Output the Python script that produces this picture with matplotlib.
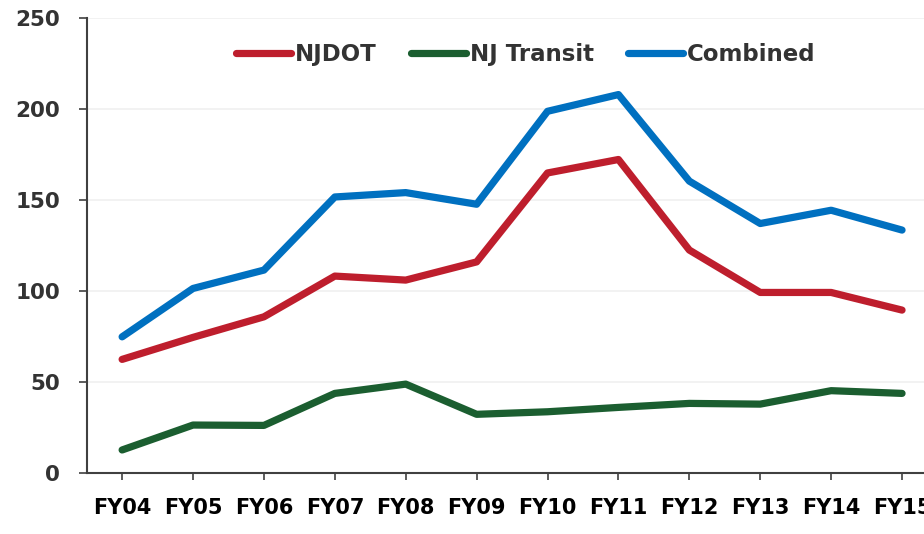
import numpy as np
import matplotlib
matplotlib.use('Agg')
import matplotlib.pyplot as plt

# Дані з графіка
years = ['FY04', 'FY05', 'FY06', 'FY07', 'FY08', 'FY09',
         'FY10', 'FY11', 'FY12', 'FY13', 'FY14', 'FY15']
njdot = [62.3, 74.4, 85.7, 108.1, 105.9, 115.9, 164.8, 172.2, 122.4, 99.1, 99.1, 89.4]
nj_transit = [12.5, 26.2, 26.0, 43.6, 48.7, 32.1, 33.5, 35.9, 38.1, 37.7, 45.1, 43.6]
combined = [74.7, 101.3, 111.4, 151.6, 154.0, 147.6, 198.7, 207.9, 160.3, 137.0, 144.3, 133.4]
y_ticks = [0, 50, 100, 150, 200, 250]

plt.rcParams['font.family'] = ['DejaVu Sans']
plt.rcParams['font.weight'] = 'bold'

fig = plt.figure(figsize=(9.24, 5.34), dpi=100)
ax = fig.add_axes([0.0938, 0.1148, 0.9208, 0.8515])

x = np.arange(len(years))
lw = 5.2
ax.plot(x, njdot, color='#BE1E2D', lw=lw, solid_capstyle='round', solid_joinstyle='round', label='NJDOT')
ax.plot(x, nj_transit, color='#1B5E30', lw=lw, solid_capstyle='round', solid_joinstyle='round', label='NJ Transit')
ax.plot(x, combined, color='#0070C0', lw=lw, solid_capstyle='round', solid_joinstyle='round', label='Combined')

ax.set_xlim(-0.5, len(years) - 0.5)
ax.set_ylim(0, 250)
ax.set_yticks(y_ticks)
ax.set_xticks(x)
ax.set_xticklabels(years)

ax.grid(axis='y', color='#F0F0F0', lw=1.2)
ax.set_axisbelow(True)

for s in ['top', 'right']:
    ax.spines[s].set_visible(False)
for s in ['left', 'bottom']:
    ax.spines[s].set_color('#404040')
    ax.spines[s].set_linewidth(1.5)

ax.tick_params(axis='y', length=6, width=1.2, color='#404040', pad=13,
               labelsize=15.5, labelcolor='#333333')
ax.tick_params(axis='x', length=5, width=1.2, color='#404040', pad=13,
               labelsize=15, labelcolor='#000000')

# легенда зверху по центру
leg = ax.legend(loc='upper center', bbox_to_anchor=(0.516, 0.99), ncol=3, frameon=False,
                handlelength=2.4, handletextpad=0.17, columnspacing=1.5,
                prop={'size': 16.5, 'weight': 'bold'})
for t in leg.get_texts():
    t.set_color('#333333')
for h in leg.legend_handles:
    h.set_solid_capstyle('round')

fig.savefig('out.png', dpi=100)
